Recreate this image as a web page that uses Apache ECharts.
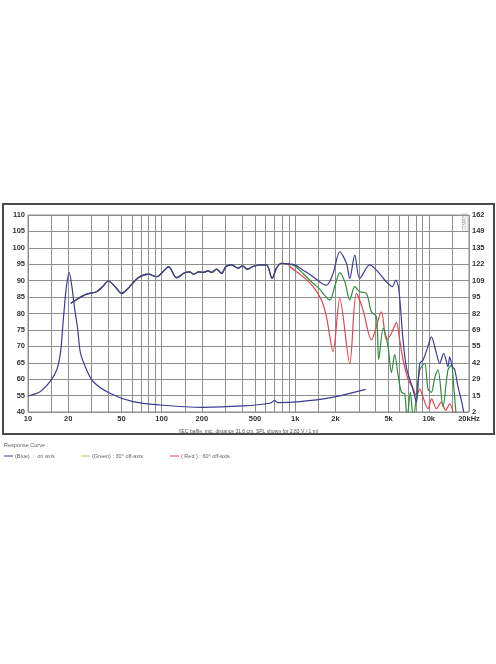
<!DOCTYPE html>
<html>
<head>
<meta charset="utf-8">
<script src="https://cdn.jsdelivr.net/npm/echarts@6/dist/echarts.min.js"></script>
<style>
  html, body { margin: 0; padding: 0; background: #fff; }
  #chart { width: 496px; height: 664px; }
</style>
</head>
<body>
<div id="chart"></div>
<script>
// grid lines (Hz) and labelled frequencies
const freqGrid = [10, 15, 20, 30, 40, 50, 60, 70, 80, 90,
  100, 150, 200, 300, 400, 500, 600, 700, 800, 900,
  1000, 1500, 2000, 3000, 4000, 5000, 6000, 7000, 8000, 9000,
  10000, 15000, 20000]
const freqLabelValues = [10, 20, 50, 100, 200, 500, 1000, 2000, 5000, 10000, 20000]
const freqLabelTexts = ['10', '20', '50', '100', '200', '500', '1k', '2k', '5k', '10k', '20kHz']

// left axis ticks: the bottom tick is printed as 40 on the original sheet
const dbTicks = [50, 55, 60, 65, 70, 75, 80, 85, 90, 95, 100, 105, 110]
const dbTickTexts = ['40', '55', '60', '65', '70', '75', '80', '85', '90', '95', '100', '105', '110']

// SPL shared by all three curves below ~900 Hz
const commonFreq = [20.9, 23.8, 27.5, 32.6, 36.2, 39.9, 44.8, 50.2, 56.3, 66.8, 79.4, 91.8,
  113, 129, 149, 163, 174, 188, 205, 223, 237, 258, 281, 303, 334, 374, 404, 437, 484,
  543, 610, 672, 724, 790, 885]
const commonSpl = [83.1, 84.6, 85.9, 86.6, 88.2, 89.9, 88.2, 86.1, 87.7, 90.9, 92.0, 91.2,
  94.2, 90.9, 92.4, 92.7, 91.9, 92.7, 92.5, 93.0, 92.5, 93.5, 92.2, 94.3, 94.8, 93.8, 94.5, 93.5, 94.3,
  94.8, 94.8, 90.7, 93.8, 95.3, 95.1]

// on axis (blue)
const blueFreq = [993, 1146, 1361, 1528, 1714, 1921, 2156, 2419, 2561, 2792, 3043, 3614, 4169,
  4677, 5101, 5343, 5655, 5955, 6413, 6799, 7200, 7600, 8075, 8551, 9051, 9862, 10460, 11400,
  12065, 12925, 13920, 14330, 15020, 15620, 16540, 17530, 18240]
const blueSpl = [94.8, 93.2, 91.2, 89.6, 88.6, 92.2, 98.8, 95.3, 90.7, 97.8, 90.7, 94.8, 92.7,
  90.2, 88.7, 88.2, 90.2, 87.7, 72.0, 63.5, 60.0, 57.0, 53.0, 64.8, 65.8, 70.0, 72.9, 67.9,
  64.8, 67.9, 63.8, 66.8, 63.8, 63.0, 57.7, 53.6, 50.0]

// 30° off axis (green)
const greenFreq = [993, 1146, 1361, 1528, 1617, 1815, 1977, 2156, 2350, 2561, 2792, 3043, 3413,
  3722, 4055, 4220, 4560, 4953, 5253, 5559, 5906, 6237, 6601, 6874, 7285, 7640, 8551, 9318,
  9862, 10460, 11070, 11720, 12770, 13920, 14760, 15360, 16090]
const greenSpl = [94.5, 92.2, 89.2, 87.4, 86.1, 84.1, 88.2, 92.4, 89.7, 84.1, 88.2, 86.6, 86.1,
  80.5, 79.0, 66.0, 75.5, 70.0, 62.0, 67.5, 61.0, 56.0, 55.5, 48.0, 56.0, 48.0, 62.8, 64.8,
  57.0, 56.0, 60.3, 62.8, 51.6, 62.8, 64.3, 58.0, 48.0]

// 60° off axis (red)
const redFreq = [912, 1023, 1146, 1361, 1573, 1714, 1921, 2156, 2561, 2871, 3220, 3722, 4420,
  4818, 5253, 5725, 6058, 6413, 6990, 7620, 8075, 8551, 9051, 9862, 10510, 11400, 12420,
  13380, 14330, 15620]
const redSpl = [94.3, 92.7, 91.2, 88.2, 84.1, 79.0, 68.4, 84.6, 64.8, 86.1, 81.1, 72.0, 80.5,
  72.0, 74.0, 77.2, 71.9, 66.0, 60.0, 57.2, 55.0, 57.0, 54.5, 51.0, 54.0, 51.0, 53.0,
  50.5, 52.5, 48.0]

// impedance (ohm, right axis)
const impFreq = [10, 12.3, 14.6, 16.4, 17.5, 18.1, 18.75, 19.4, 20.3, 21.3, 22.2, 23.5, 24.7,
  27.5, 30.8, 41, 61, 97, 204, 406, 646, 704, 745, 1080, 1800, 3375]
const impOhm = [15.0, 18.5, 26.6, 36.1, 50.0, 68.0, 88.0, 104.0, 115.5, 104.0, 88.0, 70.0, 50.0,
  36.1, 26.6, 17.2, 10.4, 7.7, 5.8, 6.9, 9.1, 11.2, 9.6, 10.4, 13.4, 20.4]

const BLUE = '#3d3b96'
const GREEN = '#2f8c3c'
const RED = '#e4424a'
const GRID = '#8f8f8f'
const FONT = 'Liberation Sans'

function pairs(freq, vals) {
  return freq.map((f, i) => [f, vals[i]])
}

function curve(name, color, data, yAxisIndex = 0) {
  return {
    name,
    type: 'line',
    yAxisIndex,
    data,
    smooth: 0.3,
    showSymbol: false,
    symbol: 'none',
    lineStyle: { width: 1.2, color },
    itemStyle: { color },
  }
}

const tickFont = { color: '#333', fontFamily: FONT, fontWeight: 'bold', fontSize: 7.5 }
const small = { fontFamily: FONT, fontSize: 5.5, fill: '#666' }

function legendItem(x, color, text) {
  return [
    { type: 'line', shape: { x1: x, y1: 456, x2: x + 9, y2: 456 }, style: { stroke: color, lineWidth: 1 } },
    { type: 'text', x: x + 11, y: 456, style: { ...small, text, verticalAlign: 'middle' } },
  ]
}

const chart = echarts.init(document.getElementById('chart'))

chart.setOption({
  animation: false,
  grid: {
    left: 28, right: 27, top: 215, bottom: 252,
    containLabel: false, outerBoundsMode: 'none',
    show: true, borderColor: GRID, borderWidth: 1,
  },
  xAxis: {
    type: 'log',
    logBase: 10,
    min: 10,
    max: 20000,
    name: '(IEC baffle, mic. distance 31.6 cm, SPL shown for 2.83 V / 1 m)',
    nameLocation: 'middle',
    nameGap: 17,
    nameTextStyle: { color: '#555', fontFamily: FONT, fontSize: 5 },
    axisLine: { show: false },
    axisTick: { show: false, customValues: freqGrid },
    splitLine: { show: true, lineStyle: { color: GRID, width: 1 } },
    axisLabel: {
      ...tickFont,
      margin: 3,
      customValues: freqLabelValues,
      formatter: (v) => {
        const i = freqLabelValues.findIndex((f) => Math.abs(f - v) < 1e-6 * f)
        return i >= 0 ? freqLabelTexts[i] : ''
      },
    },
  },
  yAxis: [
    {
      type: 'value',
      min: 50,
      max: 110,
      interval: 5,
      name: 'dB',
      nameLocation: 'middle',
      nameGap: 21,
      nameRotate: 90,
      nameTextStyle: { ...tickFont },
      axisLine: { show: false },
      axisTick: { show: false },
      splitLine: { lineStyle: { color: GRID, width: 1 } },
      axisLabel: {
        ...tickFont,
        margin: 3,
        formatter: (v) => {
          const i = dbTicks.indexOf(Math.round(v))
          return i >= 0 ? dbTickTexts[i] : ''
        },
      },
    },
    {
      type: 'value',
      min: 2,
      max: 162,
      alignTicks: true,
      position: 'right',
      name: 'ohm',
      nameLocation: 'middle',
      nameGap: 22,
      nameRotate: -90,
      nameTextStyle: { ...tickFont },
      axisLine: { show: false },
      axisTick: { show: false },
      splitLine: { show: false },
      axisLabel: { ...tickFont, margin: 3, formatter: (v) => String(Math.round(v)) },
    },
  ],
  series: [
    curve('impedance', BLUE, pairs(impFreq, impOhm), 1),
    curve('60° off-axis', RED, pairs(commonFreq, commonSpl).concat(pairs(redFreq, redSpl))),
    curve('30° off-axis', GREEN, pairs(commonFreq, commonSpl).concat(pairs(greenFreq, greenSpl))),
    curve('on axis', BLUE, pairs(commonFreq, commonSpl).concat(pairs(blueFreq, blueSpl))),
  ],
  graphic: [
    {
      type: 'rect',
      shape: { x: 3, y: 204, width: 491, height: 230 },
      style: { fill: 'none', stroke: '#4a4a4a', lineWidth: 2 },
      silent: true,
    },
    {
      type: 'text',
      x: 465,
      y: 222,
      rotation: Math.PI / 2,
      style: { text: 'DMAS', fontFamily: FONT, fontSize: 5, fill: '#999', verticalAlign: 'middle', align: 'center',
        borderColor: '#bbb', borderWidth: 0.5, padding: [0, 1] },
    },
    { type: 'text', x: 4, y: 445, style: { ...small, text: 'Response Curve :', verticalAlign: 'middle' } },
    ...legendItem(4, BLUE, '(Blue)  :  on axis'),
    ...legendItem(81, '#b5cf6a', '(Green) : 30° off-axis'),
    ...legendItem(170, RED, '( Red ) : 60° off-axis'),
  ],
})
</script>
</body>
</html>
